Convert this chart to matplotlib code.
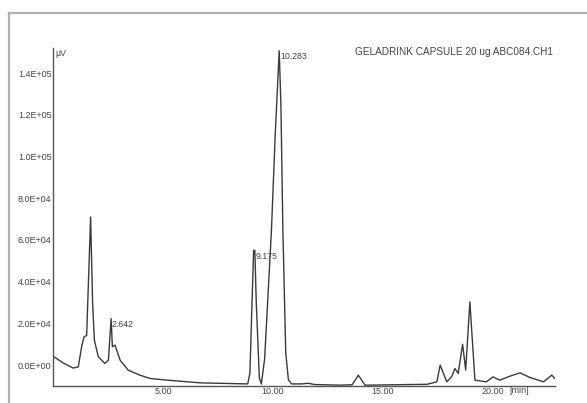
import matplotlib
matplotlib.use("Agg")
import matplotlib.pyplot as plt
from matplotlib.lines import Line2D

plt.rcParams['font.family'] = ['Liberation Sans', 'DejaVu Sans']

# chromatogram trace (time in min, signal in uV)
time_min = [0.00, 0.47, 0.92, 1.15, 1.30, 1.41, 1.53, 1.71, 1.80, 1.88, 2.06, 2.36, 2.52,
            2.642, 2.70, 2.82, 3.05, 3.42, 3.95, 4.41, 5.20, 6.70, 8.00, 8.85,
            8.95, 9.12, 9.175, 9.24, 9.38, 9.47,
            9.62, 9.93, 10.10, 10.283, 10.36, 10.45, 10.58, 10.70, 10.85,
            11.30, 11.60, 11.90, 13.05, 13.60, 13.88, 14.18, 15.50, 17.00, 17.45,
            17.60, 17.90, 18.12, 18.27, 18.42, 18.62, 18.76, 18.95, 19.18, 19.70,
            20.00, 20.30, 20.77, 21.23, 21.68, 22.30, 22.67, 22.82]
signal_uv = [4300, 1000, -1400, -800, 8800, 13500, 14300, 71000, 30000, 12000, 4000, 800, 2400,
             22300, 8800, 9600, 2400, -2400, -4800, -6400, -7200, -8500, -8800, -9000,
             -4000, 55000, 55000, 30000, -6000, -9100,
             3000, 64600, 110000, 150700, 125000, 64600, 6000, -7000, -9000,
             -9000, -8700, -9300, -9600, -9400, -4800, -9600, -9400, -9200, -8000,
             0, -8000, -5600, -1600, -4000, 10000, -2400, 30300, -7200, -8000,
             -5600, -7200, -5300, -3700, -5900, -8000, -4800, -6400]

peak_times = [2.642, 9.175, 10.283]
peak_heights = [22300, 55000, 150700]
peak_labels = ["2.642", "9.175", "10.283"]

x_ticks = [5, 10, 15, 20]
x_ticklabels = ["5.00", "10.00", "15.00", "20.00"]
y_ticks = [0, 20000, 40000, 60000, 80000, 100000, 120000, 140000]
y_ticklabels = ["0.0E+00", "2.0E+04", "4.0E+04", "6.0E+04", "8.0E+04",
                "1.0E+05", "1.2E+05", "1.4E+05"]

title = "GELADRINK CAPSULE 20 ug ABC084.CH1"

W, H = 587, 403
fig = plt.figure(figsize=(W / 100, H / 100), dpi=100)
fig.patch.set_facecolor("white")

# outer frame (left and top edges visible)
fig.add_artist(Line2D([9 / W, 9 / W], [0, 1 - 13 / H], transform=fig.transFigure,
                      color="#b0b0b0", lw=1.6))
fig.add_artist(Line2D([9 / W, 1], [1 - 13 / H, 1 - 13 / H], transform=fig.transFigure,
                      color="#b0b0b0", lw=1.6))

ax = fig.add_axes([53 / W, 17 / H, (555 - 53) / W, (386 - 48) / H])
ax.plot(time_min, signal_uv, color="#3a3a3a", lw=1.0)

ax.set_xlim(0, 22.82)
ax.set_ylim(-10000, 152000)
for s in ["top", "right"]:
    ax.spines[s].set_visible(False)
for s in ["left", "bottom"]:
    ax.spines[s].set_color("#555555")
    ax.spines[s].set_linewidth(1.0)

ax.set_xticks(x_ticks)
ax.set_xticklabels(x_ticklabels)
ax.set_yticks(y_ticks)
ax.set_yticklabels(y_ticklabels)
ax.tick_params(axis="both", length=0, labelsize=6.5, colors="#444444", pad=1)

for t, h, lab in zip(peak_times, peak_heights, peak_labels):
    ax.annotate(lab, (t, h), xytext=(0.5, -1), textcoords="offset points",
                ha="left", va="top", fontsize=6.3, color="#444444")

ax.text(0.004, 0.985, "µV", transform=ax.transAxes, ha="left", va="center",
        fontsize=6.3, color="#444444")
ax.text(20.75, -10000, "[min]", ha="left", va="top", fontsize=6.5, color="#444444",
        transform=ax.transData)
fig.text(454 / W, 1 - 52 / H, title, ha="center", va="center", fontsize=7.2,
         color="#444444")

fig.savefig("out.png", dpi=100, facecolor="white")
